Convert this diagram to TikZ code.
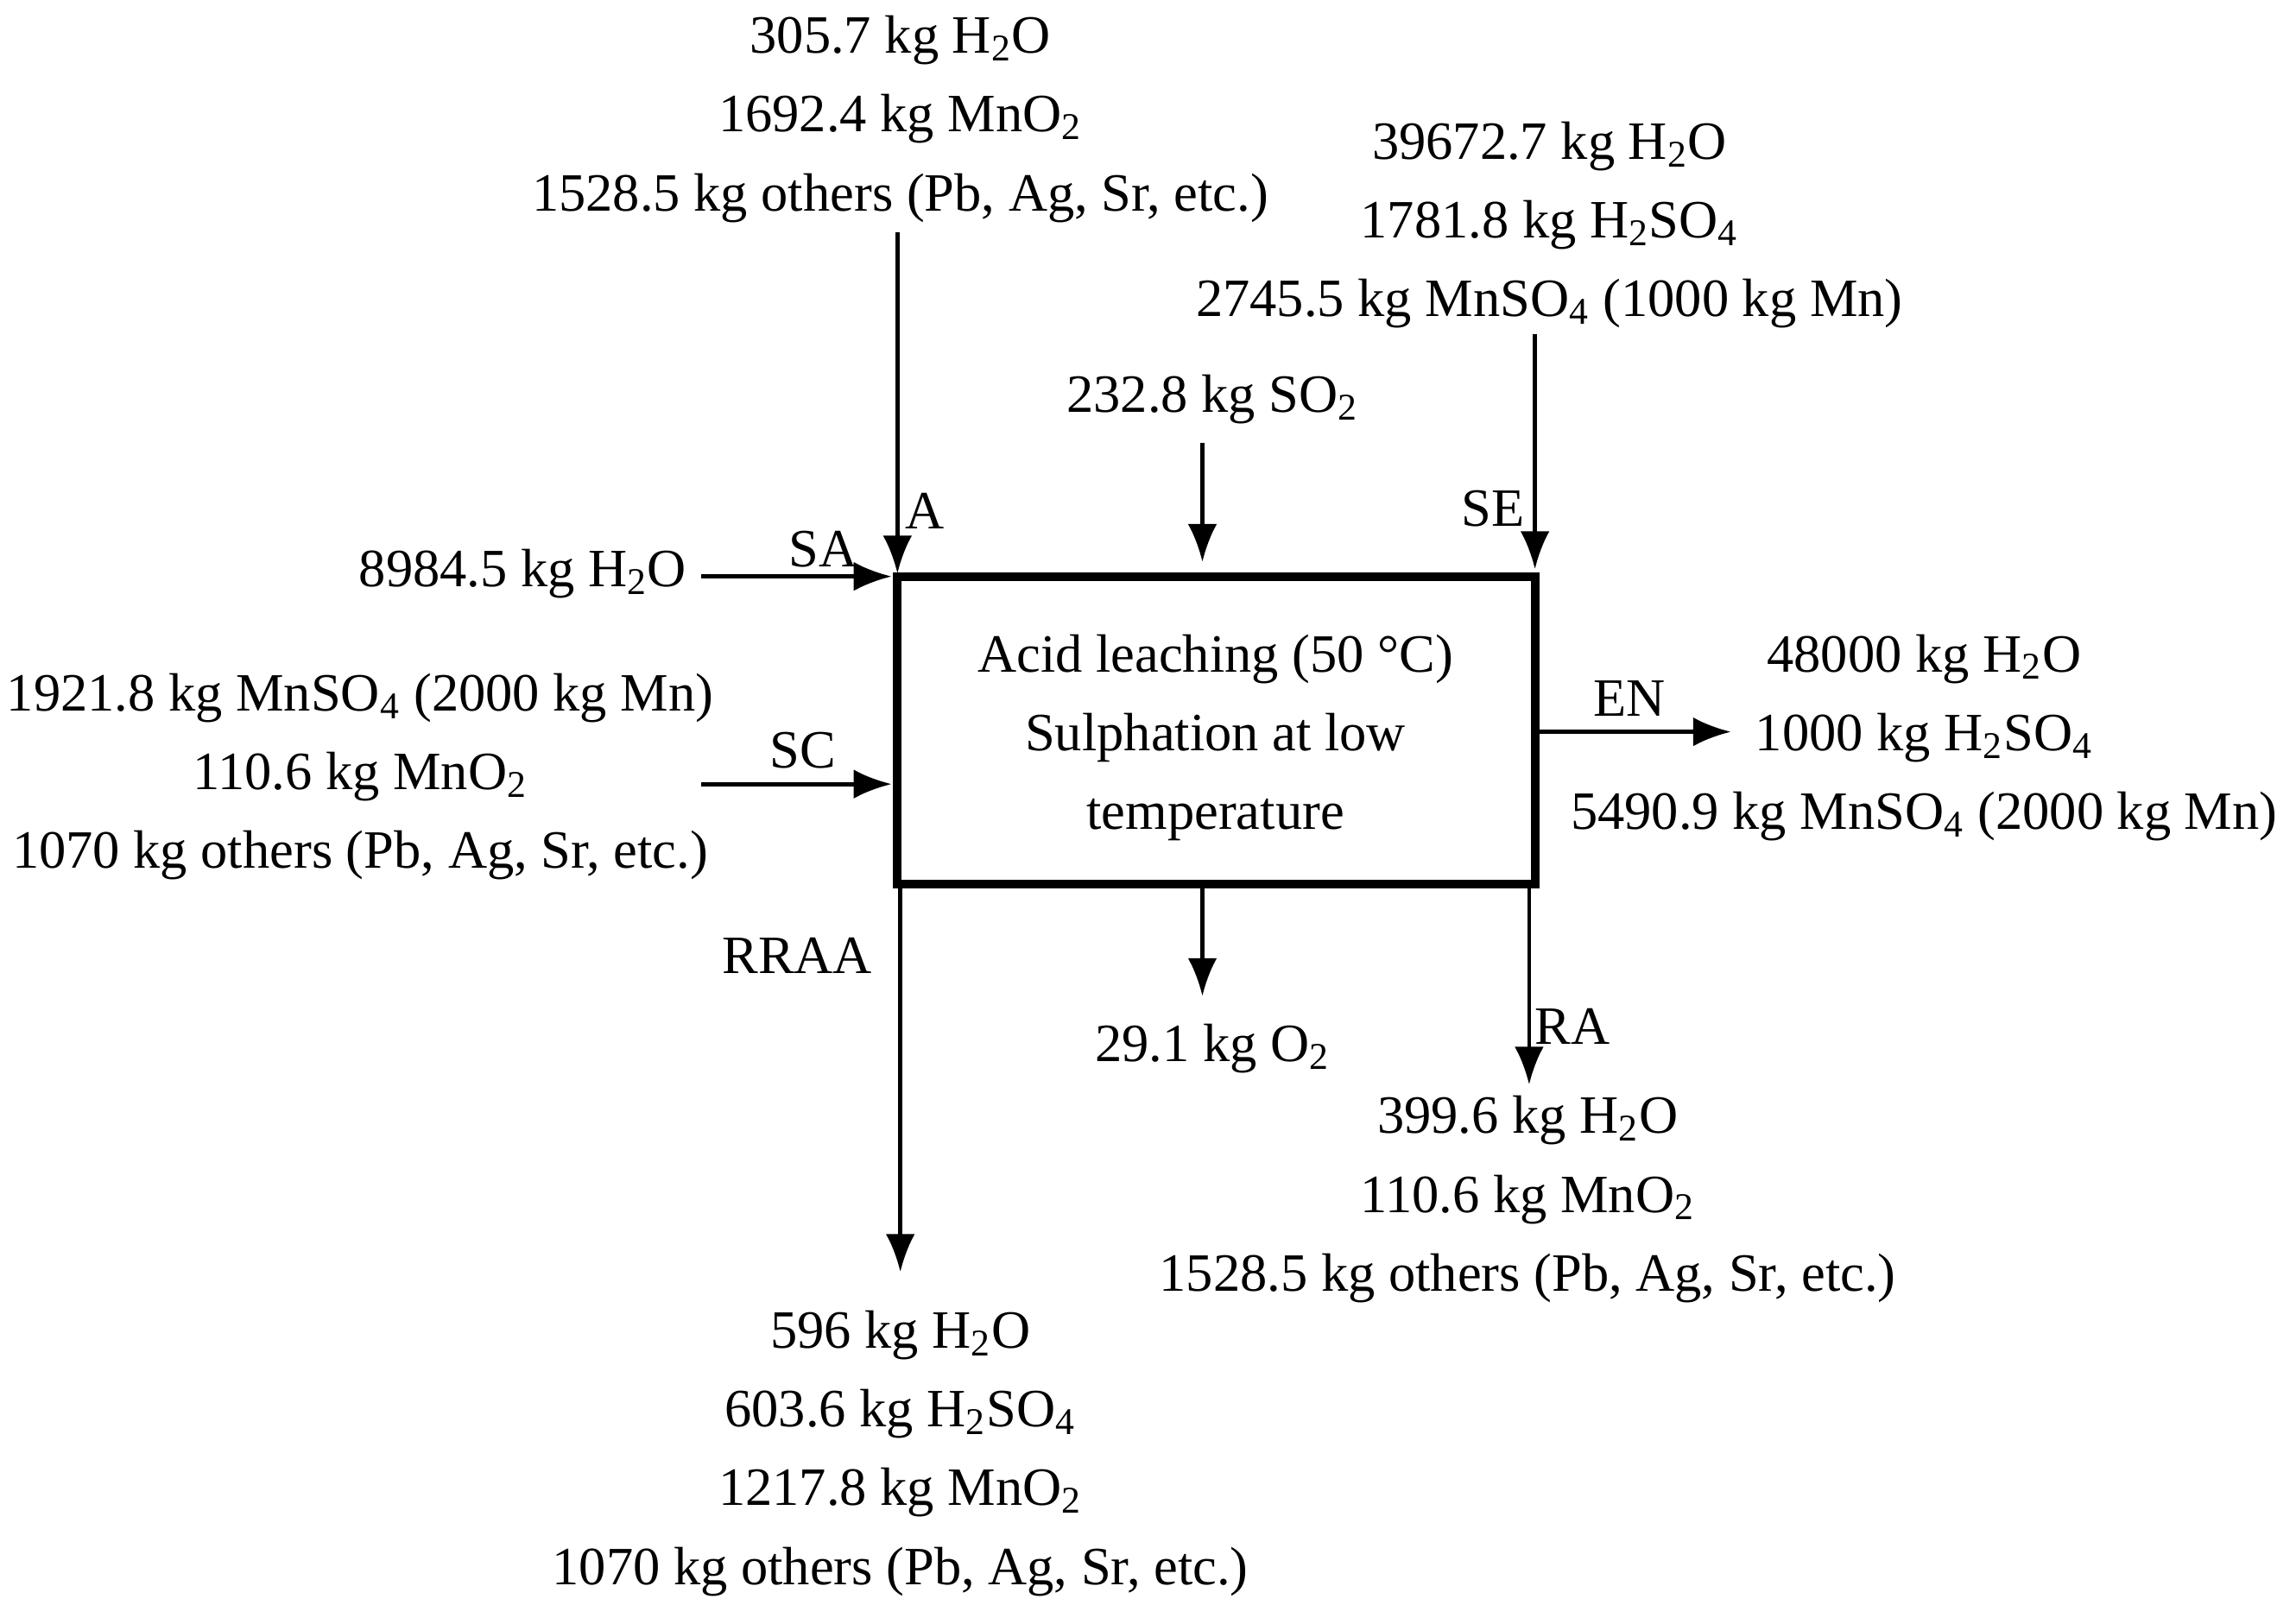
\documentclass[tikz,border=0pt]{standalone}
\usepackage{fontspec}
\setmainfont{Liberation Serif}
\usetikzlibrary{arrows.meta, positioning}
\newcommand{\sub}[1]{\textsubscript{#1}}
\begin{document}
\begin{tikzpicture}[x=0.0175cm, y=-0.0175cm,
                    every node/.style={font=\fontsize{18.5}{27}\selectfont, align=center, inner sep=0pt},
                    flow/.style={-{Latex[length=13pt,width=10pt]}, line width=1.4pt},
                    lbl/.style={anchor=base}]
\useasboundingbox (0,0) rectangle (1568,1118);

% Process box
\draw[line width=3pt] (618,397) rectangle (1057,609);
\node (box) at (837,508) {Acid leaching (50 °C)\\Sulphation at low\\temperature};
\coordinate (boxA) at (618,395);
\coordinate (boxSO) at (828,387);
\coordinate (boxSE) at (1057,392);
\coordinate (boxSA) at (614,397);
\coordinate (boxSC) at (614,540);
\coordinate (boxEN) at (1059,504);
\coordinate (boxO) at (828,611);
\coordinate (boxRA) at (1053,611);
\coordinate (boxRR) at (620,611);

% Inputs
\node (inA) at (620,82) {305.7 kg H\sub{2}O\\1692.4 kg MnO\sub{2}\\1528.5 kg others (Pb, Ag, Sr, etc.)};
\node (inSO) at (835,275) {232.8 kg SO\sub{2}};
\node (inSE) at (1067,155) {39672.7 kg H\sub{2}O\\1781.8 kg H\sub{2}SO\sub{4}\\2745.5 kg MnSO\sub{4} (1000 kg Mn)};
\node (inSA) at (360,395) {8984.5 kg H\sub{2}O};
\node (inSC) at (248,535) {1921.8 kg MnSO\sub{4} (2000 kg Mn)\\110.6 kg MnO\sub{2}\\1070 kg others (Pb, Ag, Sr, etc.)};

% Outputs
\node (outEN) at (1325,508) {48000 kg H\sub{2}O\\1000 kg H\sub{2}SO\sub{4}\\5490.9 kg MnSO\sub{4} (2000 kg Mn)};
\node (outO) at (835,722) {29.1 kg O\sub{2}};
\node (outRA) at (1052,826) {399.6 kg H\sub{2}O\\110.6 kg MnO\sub{2}\\1528.5 kg others (Pb, Ag, Sr, etc.)};
\node (outRR) at (620,1001) {596 kg H\sub{2}O\\603.6 kg H\sub{2}SO\sub{4}\\1217.8 kg MnO\sub{2}\\1070 kg others (Pb, Ag, Sr, etc.)};

\coordinate (sA) at (618,160);
\coordinate (sSO) at (828,305);
\coordinate (sSE) at (1057,230);
\coordinate (sSA) at (483,397);
\coordinate (sSC) at (483,540);
\coordinate (eEN) at (1192,504);
\coordinate (eO) at (828,686);
\coordinate (eRA) at (1053,747);
\coordinate (eRR) at (620,876);

% Streams
\draw[flow] (sA) -- (boxA);
\draw[flow] (sSO) -- (boxSO);
\draw[flow] (sSE) -- (boxSE);
\draw[flow] (sSA) -- (boxSA);
\draw[flow] (sSC) -- (boxSC);
\draw[flow] (boxEN) -- (eEN);
\draw[flow] (boxO) -- (eO);
\draw[flow] (boxRA) -- (eRA);
\draw[flow] (boxRR) -- (eRR);

% Stream labels
\node (lA) at (637,352) {A};
\node (lSE) at (1028,350) {SE};
\node (lSA) at (567,378) {SA};
\node (lSC) at (553,517) {SC};
\node (lEN) at (1122,481) {EN};
\node (lRA) at (1083,707) {RA};
\node (lRR) at (549,658) {RRAA};
\end{tikzpicture}
\end{document}
